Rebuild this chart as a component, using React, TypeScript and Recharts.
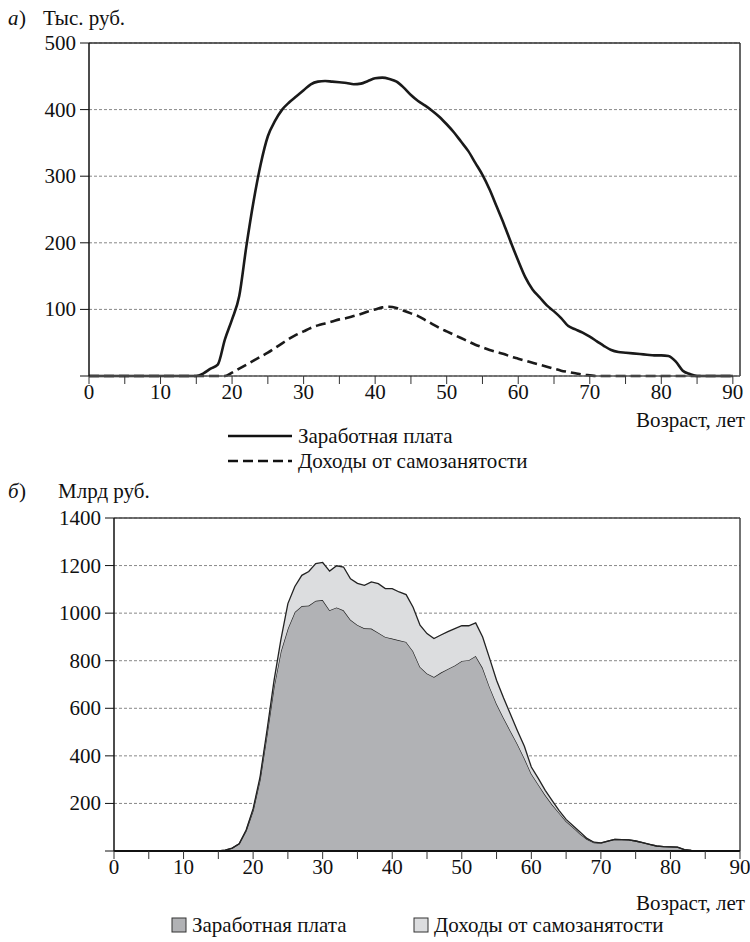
import { LineChart, Line, AreaChart, Area, XAxis, YAxis, CartesianGrid, ReferenceLine } from 'recharts';

const SERIF = '"Liberation Serif", "Times New Roman", serif';

// ages 0..90
const ages = Array.from({ length: 91 }, (_, i) => i);

// (a) thousand roubles per person
const wagePerCapita = [
  0, 0, 0, 0, 0, 0, 0, 0, 0, 0, 0, 0, 0, 0, 0, 0,
  4, 11, 17, 55, 85, 120, 195, 262, 318, 360, 383, 400, 411, 420,
  429, 438, 442, 443, 442, 441, 440, 438, 439, 443, 447, 448, 446, 442, 433,
  422, 413, 406, 398, 389, 378, 366, 352, 338, 320, 302, 280, 254, 228, 200,
  173, 148, 130, 118, 106, 97, 87, 75, 70, 65, 59, 52, 45, 39, 36,
  35, 34, 33, 32, 31, 31, 30, 22, 8, 3, 0, 0, 0, 0, 0, 0,
];
const selfPerCapita = [
  0, 0, 0, 0, 0, 0, 0, 0, 0, 0, 0, 0, 0, 0, 0, 0, 0, 0, 0, 0,
  5, 11, 17, 23, 29, 35, 42, 49, 56, 62, 67, 72, 76, 79, 82,
  85, 87, 90, 93, 97, 100, 103, 104, 102, 98, 94, 90, 84, 78, 72,
  67, 62, 57, 52, 47, 43, 39, 36, 33, 29, 26, 23, 20, 17, 14,
  11, 8, 6, 4, 2, 1, 0, 0, 0, 0, 0, 0, 0, 0, 0, 0, 0, 0, 0, 0, 0, 0, 0, 0, 0, 0,
];

// (b) billion roubles, total
const wageTotal = [
  0, 0, 0, 0, 0, 0, 0, 0, 0, 0, 0, 0, 0, 0, 0, 0,
  4, 12, 30, 85, 170, 300, 490, 690, 840, 935, 1005, 1030, 1032, 1052,
  1055, 1012, 1024, 1012, 972, 950, 936, 935, 918, 900, 893, 886, 879, 840, 774,
  746, 732, 750, 765, 780, 799, 802, 820, 770, 690, 619, 560, 505, 450, 390,
  325, 280, 235, 195, 160, 125, 100, 73, 50, 35, 33, 42, 49, 48, 47,
  42, 35, 28, 21, 18, 17, 16, 6, 3, 1, 0, 0, 0, 0, 0, 0,
];
const selfTotal = [
  0, 0, 0, 0, 0, 0, 0, 0, 0, 0, 0, 0, 0, 0, 0, 0, 0, 0, 0,
  3, 8, 12, 18, 25, 50, 105, 107, 129, 143, 156, 158, 165, 175, 182, 172,
  175, 181, 196, 206, 203, 210, 203, 199, 185, 175, 168, 161, 158, 157, 155,
  148, 145, 139, 130, 120, 99, 84, 70, 56, 50, 28, 25, 20, 17, 10,
  8, 6, 7, 3, 2, 1, 0, 0, 0, 0, 0, 0, 0, 0, 0, 0, 0, 0, 0, 0, 0, 0, 0, 0, 0, 0,
];

const xTicks = [0, 5, 10, 15, 20, 25, 30, 35, 40, 45, 50, 55, 60, 65, 70, 75, 80, 85, 90];
const yTicksA = [0, 100, 200, 300, 400, 500];
const yTicksB = [0, 200, 400, 600, 800, 1000, 1200, 1400];

const dataA = ages.map((age, i) => ({ age, wage: wagePerCapita[i], self: selfPerCapita[i] }));
const dataB = ages.map((age, i) => ({ age, wage: wageTotal[i], self: selfTotal[i] }));

const YTick = ({ x, y, payload }: any) =>
  payload.value === 0 ? (
    <g />
  ) : (
    <text x={x} y={y} dy={7} textAnchor="end" fontSize={21} fill="#111" style={{ fontFamily: SERIF }}>
      {payload.value}
    </text>
  );

const XTick = ({ x, y, payload }: any) =>
  payload.value % 10 !== 0 ? (
    <g />
  ) : (
    <text x={x} y={y} dy={15} textAnchor="middle" fontSize={21} fill="#111" style={{ fontFamily: SERIF }}>
      {payload.value}
    </text>
  );

const txt = { fontSize: 21, fill: '#111', style: { fontFamily: SERIF } };

export default function App() {
  return (
    <div style={{ position: 'absolute', left: 0, top: 0, width: 750, height: 942, background: '#fff' }}>
      <div style={{ position: 'absolute', left: 0, top: 0 }}>
        <LineChart width={750} height={424} data={dataA} margin={{ top: 43, right: 10, left: 0, bottom: 24 }}>
          <CartesianGrid horizontal vertical={false} stroke="#888" strokeDasharray="3 2" />
          <XAxis
            dataKey="age"
            type="number"
            domain={[0, 91]}
            ticks={xTicks}
            height={24}
            tickSize={8}
            tickMargin={0}
            tick={<XTick />}
            axisLine={{ stroke: '#555', strokeWidth: 1.5 }}
            tickLine={{ stroke: '#333' }}
          />
          <YAxis
            type="number"
            domain={[0, 500]}
            ticks={yTicksA}
            width={89}
            tickSize={9}
            tickMargin={4}
            tick={<YTick />}
            axisLine={{ stroke: '#111', strokeWidth: 1.5 }}
            tickLine={{ stroke: '#111' }}
          />
          <ReferenceLine y={500} stroke="#333" strokeWidth={1.5} />
          <ReferenceLine x={91} stroke="#333" strokeWidth={1.5} />
          <Line dataKey="wage" type="monotone" stroke="#1a1a1a" strokeWidth={2.6} dot={false} isAnimationActive={false} />
          <Line dataKey="self" type="monotone" stroke="#1a1a1a" strokeWidth={2.6} strokeDasharray="10 5" dot={false} isAnimationActive={false} />
        </LineChart>
      </div>

      <div style={{ position: 'absolute', left: 0, top: 480 }}>
        <AreaChart width={750} height={419} data={dataB} margin={{ top: 38, right: 10, left: 0, bottom: 24 }}>
          <CartesianGrid horizontal vertical={false} stroke="#888" strokeDasharray="3 2" />
          <XAxis
            dataKey="age"
            type="number"
            domain={[0, 90]}
            ticks={xTicks}
            height={24}
            tickSize={8}
            tickMargin={0}
            tick={<XTick />}
            axisLine={{ stroke: '#111', strokeWidth: 2 }}
            tickLine={{ stroke: '#333' }}
          />
          <YAxis
            type="number"
            domain={[0, 1400]}
            ticks={yTicksB}
            width={114}
            tickSize={9}
            tickMargin={4}
            tick={<YTick />}
            axisLine={{ stroke: '#111', strokeWidth: 1.5 }}
            tickLine={{ stroke: '#111' }}
          />
          <Area dataKey="wage" stackId="s" type="linear" fill="#b1b2b5" fillOpacity={1} stroke="#222" strokeWidth={1.3} isAnimationActive={false} />
          <Area dataKey="self" stackId="s" type="linear" fill="#dcdddf" fillOpacity={1} stroke="#222" strokeWidth={1.3} isAnimationActive={false} />
          <ReferenceLine y={1400} stroke="#444" strokeWidth={1.5} />
          <ReferenceLine x={90} stroke="#444" strokeWidth={1.5} />
        </AreaChart>
      </div>

      <svg width={750} height={942} style={{ position: 'absolute', left: 0, top: 0, pointerEvents: 'none' }}>
        <text x={8} y={25} {...txt} fontStyle="italic">а</text>
        <text x={19} y={25} {...txt}>)</text>
        <text x={43} y={25} {...txt}>Тыс. руб.</text>
        <text x={745} y={427} textAnchor="end" {...txt}>Возраст, лет</text>
        <line x1={228} y1={436} x2={292} y2={436} stroke="#111" strokeWidth={2.6} />
        <text x={298} y={443} {...txt}>Заработная плата</text>
        <line x1={228} y1={461} x2={292} y2={461} stroke="#111" strokeWidth={2.6} strokeDasharray="10 5" />
        <text x={298} y={468} {...txt}>Доходы от самозанятости</text>

        <text x={8} y={498} {...txt} fontStyle="italic">б</text>
        <text x={19} y={498} {...txt}>)</text>
        <text x={58} y={498} {...txt}>Млрд руб.</text>
        <text x={745} y={910} textAnchor="end" {...txt}>Возраст, лет</text>
        <rect x={172} y={918} width={14} height={14} fill="#b1b2b5" stroke="#333" />
        <text x={192} y={932} {...txt}>Заработная плата</text>
        <rect x={414} y={918} width={14} height={14} fill="#dcdddf" stroke="#333" />
        <text x={434} y={932} {...txt}>Доходы от самозанятости</text>
      </svg>
    </div>
  );
}
